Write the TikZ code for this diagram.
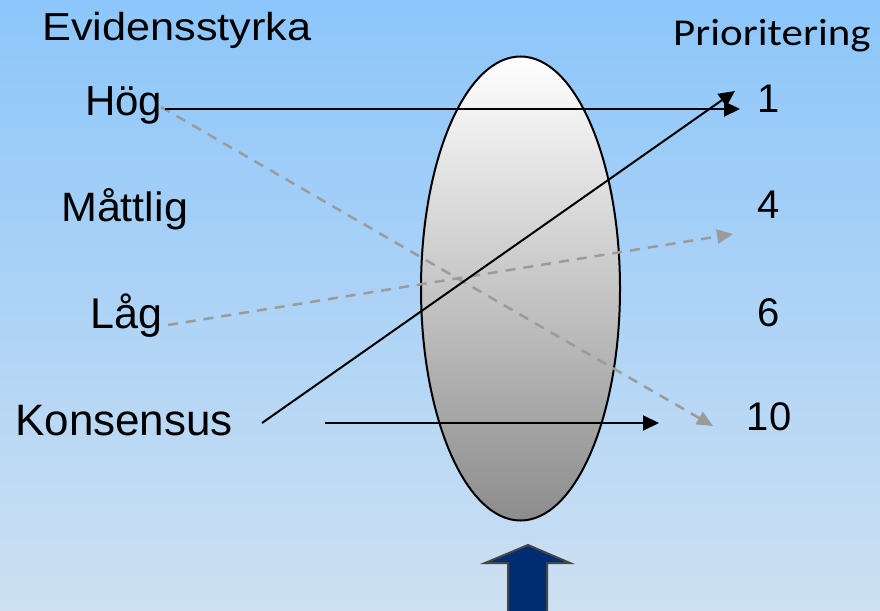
\documentclass[tikz,border=0pt]{standalone}
\usepackage{fontspec}
\setmainfont{Liberation Sans}
\newfontfamily\calibrifont{Carlito}
\usetikzlibrary{arrows.meta,shapes.geometric}
\definecolor{bgtop}{RGB}{140,198,250}
\definecolor{bgbot}{RGB}{205,224,242}
\definecolor{arrowgray}{RGB}{155,155,155}
\definecolor{arrowblue}{RGB}{0,45,114}
\definecolor{arrowedge}{RGB}{70,70,70}
\begin{document}
\begin{tikzpicture}[x=1pt,y=-1pt,
  lbl/.style={inner sep=0pt, anchor=base west, text=black},
  num/.style={inner sep=0pt, anchor=base, text=black, font=\fontsize{40}{40}\selectfont},
  solidarrow/.style={line width=2pt, draw=black, -{Triangle[length=16pt,width=15pt]}},
  grayarrow/.style={line width=2.5pt, draw=arrowgray, dash pattern=on 10pt off 8pt, -{Triangle[length=16pt,width=14pt,fill=arrowgray]}},
]
\useasboundingbox (0,0) rectangle (880,610);
\shade[top color=bgtop, bottom color=bgbot] (0,0) rectangle (880,610);

% lens
\node[ellipse, draw=black, line width=2pt, minimum width=199pt, minimum height=464pt,
      inner sep=0pt, top color=white, bottom color=black!45] (lens) at (520.5,288.5) {};

% labels left
\node[lbl, font=\fontsize{39}{39}\selectfont] (evid) at (42,41) {\scalebox{1.11}[1]{Evidensstyrka}};
\node[lbl, font=\fontsize{42}{42}\selectfont] (hog) at (85,115) {Hög};
\node[lbl, font=\fontsize{41}{41}\selectfont] (mattlig) at (61,221) {\scalebox{1.05}[1]{Måttlig}};
\node[lbl, font=\fontsize{43}{43}\selectfont] (lag) at (90,328) {Låg};
\node[lbl, font=\fontsize{44}{44}\selectfont] (kons) at (15,435) {Konsensus};

% labels right
\node[lbl, font=\calibrifont\fontsize{38}{38}\selectfont] (prio) at (673,46) {\scalebox{1.13}[1]{Prioritering}};
\node[num] (n1) at (769,112) {1};
\node[num] (n4) at (769,218) {4};
\node[num] (n6) at (769,326) {6};
\node[num] (n10) at (769,430) {10};

% arrow end points
\coordinate (hogA) at (165,109);
\coordinate (hogB) at (740,109);
\coordinate (konsA) at (262,423);
\coordinate (konsB) at (735,91);
\coordinate (konsC) at (325,423);
\coordinate (konsD) at (659,423);
\coordinate (hogC) at (161,107);
\coordinate (hogD) at (713,426);
\coordinate (lagA) at (168,325);
\coordinate (lagB) at (733,234);

% gray dashed arrows
\draw[grayarrow] (hogC) -- (hogD);
\draw[grayarrow] (lagA) -- (lagB);
% black arrows
\draw[solidarrow] (hogA) -- (hogB);
\draw[solidarrow] (konsA) -- (konsB);
\draw[solidarrow] (konsC) -- (konsD);

% block arrow at bottom
\fill[arrowblue] (508,614) -- (508,563) -- (485,563) -- (528,545) -- (570,563) -- (547,563) -- (547,614) -- cycle;
\draw[arrowedge, line width=2pt, line join=miter] (508,614) -- (508,563) -- (485,563) -- (528,545) -- (570,563) -- (547,563) -- (547,614);
\end{tikzpicture}
\end{document}
